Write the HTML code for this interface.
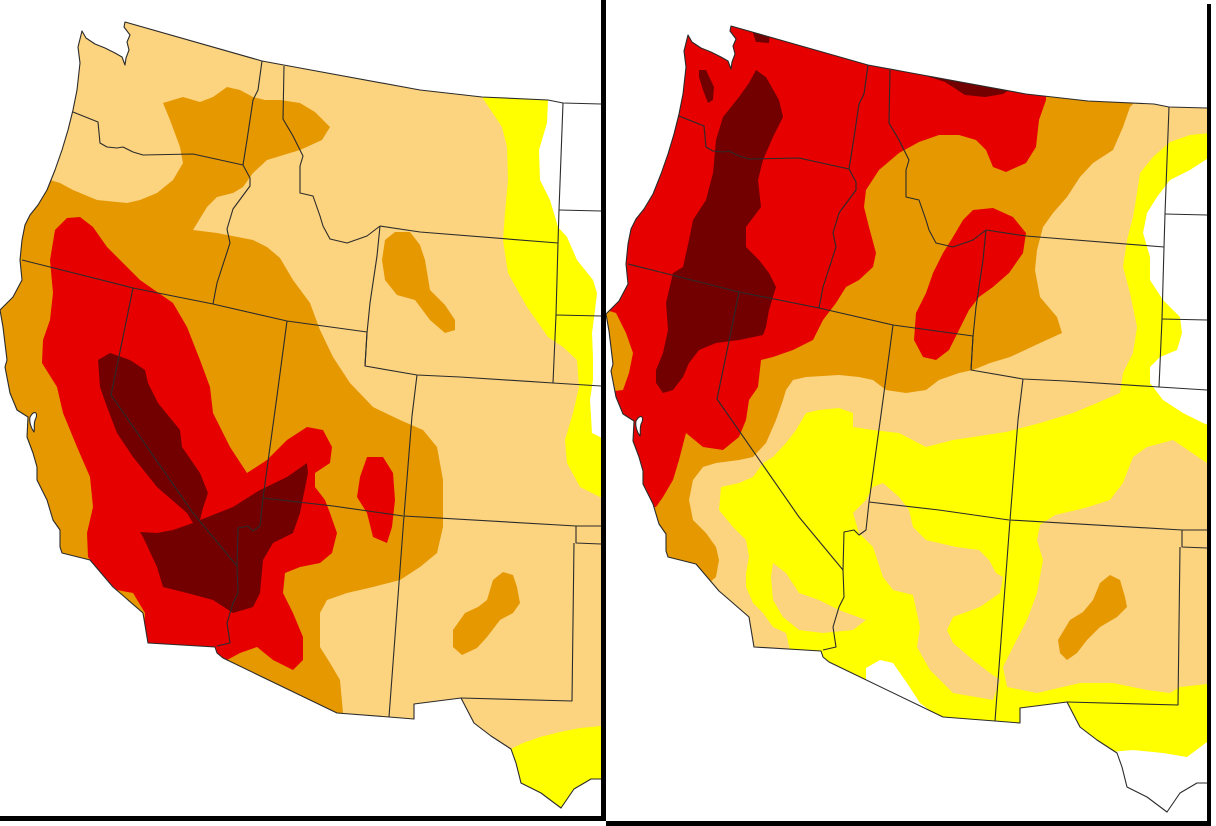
<!DOCTYPE html>
<html><head><meta charset="utf-8"><style>html,body{margin:0;padding:0;background:#fff;width:1216px;height:826px;overflow:hidden}svg{display:block}</style></head>
<body>
<svg width="1216" height="826" viewBox="0 0 1216 826" xmlns="http://www.w3.org/2000/svg" overflow="hidden">
<defs>
<clipPath id="cL"><path d="M125,22 L262,61 L300,68 L420,90 L482,97 L548,100 L563,103 L601,104 L601,779 L591,779 L574,789 L561,808 L541,793 L521,783 L516,763 L511,749 L491,736 L474,723 L461,698 L414,704 L414,719 L389,717 L337,713 L223,658 L217,653 L215,647 L148,643 L143,613 L120,593 L113,587 L90,560 L62,553 L60,547 L60,530 L53,520 L47,500 L37,480 L37,467 L33,453 L27,437 L28,417 L17,410 L10,393 L5,367 L7,360 L3,327 L0,310 L13,297 L22,280 L20,260 L22,240 L25,225 L30,215 L38,205 L47,190 L55,170 L62,150 L68,130 L73,110 L77,90 L80,63 L78,47 L82,31 L86,38 L95,44 L105,48 L115,53 L122,57 L125,65 L126,58 L129,50 L127,42 L130,35 L124,27 Z"/></clipPath>
<clipPath id="cR"><path transform="translate(606,4)" d="M125,22 L262,61 L300,68 L420,90 L482,97 L548,100 L563,103 L610,104 L610,779 L591,779 L574,789 L561,808 L541,793 L521,783 L516,763 L511,749 L491,736 L474,723 L461,698 L414,704 L414,719 L389,717 L337,713 L223,658 L217,653 L215,647 L148,643 L143,613 L120,593 L113,587 L90,560 L62,553 L60,547 L60,530 L53,520 L47,500 L37,480 L37,467 L33,453 L27,437 L28,417 L17,410 L10,393 L5,367 L7,360 L3,327 L0,310 L13,297 L22,280 L20,260 L22,240 L25,225 L30,215 L38,205 L47,190 L55,170 L62,150 L68,130 L73,110 L77,90 L80,63 L78,47 L82,31 L86,38 L95,44 L105,48 L115,53 L122,57 L125,65 L126,58 L129,50 L127,42 L130,35 L124,27 Z"/></clipPath>
<g id="lines" fill="none" stroke="#2b2b2b" stroke-width="1.1" stroke-linejoin="round">
<polyline points="601,104 563,103 548,100 482,97 420,90 300,68 262,61 125,22 124,27 130,35 127,42 129,50 126,58 125,65 122,57 115,53 105,48 95,44 86,38 82,31 78,47 80,63 77,90 73,110 68,130 62,150 55,170 47,190 38,205 30,215 25,225 22,240 20,260 22,280 13,297 0,310"/>
<polyline points="0,310 3,327 7,360 5,367 10,393 17,410 28,417 27,437 33,453 37,467 37,480 47,500 53,520 60,530 60,547 62,553 90,560 113,587 120,593 143,613 148,643 215,647 217,653 223,658 337,713 389,717 414,719 414,704 461,698 474,723 491,736 511,749 516,763 521,783 541,793 561,808 574,789 591,779 601,779"/>
<polyline points="73,112 98,122 100,143 107,147 117,148 123,147 133,152 143,155 193,154 243,165"/>
<polyline points="262,61 258,90 253,100 247,140 243,165"/>
<polyline points="284,66 283,119 293,136 303,156 300,166 300,193 313,196 320,216 323,226 330,239 347,243 367,236 380,226"/>
<polyline points="380,226 377,256 370,303 367,333 365,366"/>
<polyline points="380,226 420,232 558,243"/>
<polyline points="563,103 559,210 558,243 556,315 553,383"/>
<polyline points="559,210 601,211"/>
<polyline points="556,315 601,316"/>
<polyline points="22,260 50,267 133,288 213,304 287,321 367,332"/>
<polyline points="243,165 250,178 250,186 233,209 227,229 230,243 217,283 213,304"/>
<polyline points="133,288 123,337 111,395 193,513 237,566 238,593 233,603 227,623 230,643 217,646"/>
<polyline points="287,321 277,396 263,498 260,526 253,531 248,526 238,528 237,566"/>
<polyline points="263,498 333,506 403,516"/>
<polyline points="417,375 412,416 404,516 389,717"/>
<polyline points="367,332 365,366 417,375 460,377 553,383 601,386"/>
<polyline points="404,516 576,526 601,526"/>
<polyline points="576,526 576,543 601,544"/>
<polyline points="574,543 572,701 461,698"/>
<path d="M30,417 C34,410 38,412 36,418 C33,423 35,428 34,432 C31,428 29,422 30,417 Z" fill="#fff"/>
</g>
</defs>

<!-- LEFT PANEL -->
<g clip-path="url(#cL)">
<rect x="0" y="0" width="606" height="826" fill="#FCD37F"/>
<path fill="#FFFF00" d="M482,97 L502,127 L507,147 L508,180 L505,213 L503,240 L508,273 L527,307 L548,337 L563,347 L577,360 L579,387 L573,413 L565,440 L567,463 L580,487 L600,497 L606,497 L606,90 L482,90 Z"/>
<path fill="#FFFFFF" d="M548,100 L547,123 L539,150 L540,180 L550,200 L558,227 L567,237 L577,260 L593,280 L597,293 L595,310 L592,333 L593,357 L593,380 L590,400 L592,433 L602,438 L606,438 L606,90 L548,90 Z"/>
<path fill="#FFFF00" d="M505,752 L523,743 L540,737 L560,732 L580,728 L601,726 L606,726 L606,820 L500,820 Z"/>
<path fill="#E69800" d="M50,180 L60,183 L73,190 L97,200 L127,203 L140,200 L157,193 L173,180 L183,163 L180,147 L170,120 L163,103 L183,97 L200,102 L213,97 L227,87 L240,90 L253,97 L265,100 L280,100 L300,103 L315,112 L330,127 L322,140 L300,150 L267,160 L253,173 L243,187 L233,193 L217,197 L207,207 L193,230 L217,233 L253,240 L267,247 L280,258 L293,280 L310,303 L320,330 L333,357 L350,383 L373,407 L400,420 L423,430 L437,447 L443,480 L443,527 L437,553 L420,567 L400,580 L373,587 L347,593 L327,600 L320,613 L320,647 L330,663 L340,680 L343,713 L343,740 L0,740 L0,180 Z"/>
<path fill="#E69800" d="M395,232 L410,232 L420,245 L425,260 L430,290 L445,305 L455,320 L455,330 L445,333 L430,320 L415,300 L397,295 L385,280 L382,260 L385,240 Z"/>
<path fill="#E69800" d="M503,572 L513,575 L517,587 L520,603 L513,613 L500,620 L487,637 L477,648 L462,655 L453,647 L453,630 L465,613 L478,607 L487,600 L493,580 Z"/>
<path fill="#E60000" d="M55,230 L67,218 L80,217 L93,227 L107,247 L127,267 L140,280 L150,287 L173,303 L187,327 L200,360 L210,387 L213,413 L230,447 L247,473 L267,460 L287,440 L307,427 L323,430 L332,447 L330,463 L315,473 L315,487 L325,500 L330,513 L337,533 L332,553 L320,563 L300,567 L285,573 L283,593 L293,613 L303,637 L303,660 L293,670 L273,660 L257,647 L240,653 L227,660 L220,700 L140,700 L145,613 L133,593 L117,590 L103,577 L88,557 L87,533 L93,507 L90,477 L77,447 L63,413 L57,387 L42,363 L43,340 L50,320 L53,293 L50,260 Z"/>
<path fill="#E60000" d="M367,457 L383,457 L393,473 L395,500 L392,527 L387,543 L373,537 L367,513 L357,497 L360,477 Z"/>
<path fill="#730000" d="M98,360 L110,353 L130,360 L145,370 L148,383 L158,403 L180,430 L182,447 L200,473 L208,493 L203,508 L200,520 L233,507 L260,490 L287,477 L307,463 L308,473 L300,513 L293,533 L273,543 L263,560 L260,593 L253,607 L233,613 L213,600 L187,593 L163,587 L157,567 L143,537 L140,532 L157,533 L173,530 L193,523 L187,513 L157,487 L133,457 L117,433 L107,407 L100,387 Z"/>
</g>
<use href="#lines"/>

<!-- RIGHT PANEL -->
<g clip-path="url(#cR)">
<rect x="606" y="0" width="610" height="826" fill="#FCD37F"/>
<path fill="#FFFF00" d="M721,487 L739,483 L753,477 L763,463 L773,457 L786,443 L796,430 L806,413 L819,410 L839,408 L853,413 L853,427 L873,430 L899,433 L926,447 L953,440 L973,437 L1006,432 L1040,423 L1073,413 L1097,403 L1120,393 L1123,373 L1133,353 L1137,327 L1130,293 L1123,267 L1127,240 L1133,217 L1137,193 L1140,173 L1153,157 L1170,142 L1190,135 L1210,133 L1216,133 L1216,826 L790,826 L790,650 L786,633 L773,627 L763,613 L753,603 L746,587 L746,573 L749,557 L746,540 L733,527 L719,510 Z"/>
<path fill="#FFFFFF" d="M1210,157 L1190,170 L1170,180 L1157,197 L1147,213 L1143,233 L1150,257 L1150,280 L1163,300 L1180,317 L1182,333 L1177,350 L1160,357 L1150,367 L1150,383 L1163,400 L1183,413 L1203,423 L1216,428 L1216,157 Z"/>
<path fill="#FCD37F" d="M773,563 L786,573 L799,593 L819,600 L839,610 L866,620 L853,630 L823,633 L799,630 L783,617 L773,600 L771,577 Z"/>
<path fill="#FCD37F" d="M853,513 L859,507 L866,500 L873,487 L883,483 L899,497 L909,510 L913,527 L926,540 L956,547 L979,550 L989,560 L996,573 L1003,577 L1000,593 L980,607 L953,617 L947,630 L953,643 L973,660 L990,673 L1000,680 L993,700 L953,693 L930,670 L917,647 L920,627 L913,595 L893,590 L883,577 L873,547 L859,533 Z"/>
<path fill="#FCD37F" d="M1216,463 L1207,463 L1173,440 L1147,447 L1133,457 L1123,483 L1110,500 L1085,508 L1055,515 L1040,525 L1037,540 L1043,560 L1037,593 L1027,620 L1013,647 L1003,667 L1007,687 L1037,693 L1080,683 L1113,683 L1147,690 L1170,693 L1180,687 L1216,683 Z"/>
<path fill="#FFFFFF" d="M866,668 L880,660 L893,663 L907,683 L920,703 L945,722 L866,722 Z"/>
<path fill="#FFFFFF" d="M1110,752 L1133,750 L1163,753 L1187,757 L1207,742 L1216,740 L1216,826 L1100,826 Z"/>
<path fill="#E69800" d="M1040,60 L1140,60 L1133,104 L1130,107 L1123,127 L1113,150 L1093,163 L1080,177 L1067,197 L1053,213 L1043,227 L1037,250 L1035,270 L1040,297 L1057,317 L1062,333 L1040,343 L1010,357 L990,363 L973,370 L959,373 L939,380 L926,390 L906,393 L886,390 L873,380 L859,377 L839,375 L806,377 L793,380 L786,390 L783,400 L776,420 L766,443 L753,457 L739,460 L716,463 L703,467 L693,480 L689,500 L693,520 L706,533 L716,547 L719,560 L716,577 L709,583 L700,600 L606,600 L606,60 Z"/>
<path fill="#E69800" d="M1110,575 L1120,580 L1125,597 L1127,607 L1117,617 L1100,627 L1087,640 L1077,653 L1067,660 L1060,653 L1058,640 L1070,620 L1083,612 L1093,600 L1100,583 Z"/>
<path fill="#E60000" d="M606,0 L1046,0 L1046,100 L1039,120 L1036,147 L1026,163 L1006,172 L993,167 L986,150 L976,140 L959,135 L939,135 L919,142 L899,153 L879,170 L866,190 L864,207 L869,227 L876,253 L873,267 L859,280 L846,287 L836,303 L823,320 L813,340 L793,350 L773,357 L761,360 L758,387 L749,400 L746,420 L739,437 L723,450 L703,447 L686,433 L679,460 L673,480 L663,497 L656,507 L606,507 L606,392 L623,390 L629,373 L633,353 L626,333 L616,313 L606,310 Z"/>
<path fill="#E60000" d="M973,210 L993,208 L1013,217 L1026,233 L1023,253 L1009,273 L993,287 L979,297 L969,310 L959,330 L949,350 L936,360 L923,357 L914,340 L916,313 L926,293 L933,273 L943,253 L953,237 L963,220 Z"/>
<path fill="#730000" d="M756,70 L766,77 L779,100 L783,117 L773,137 L763,160 L758,180 L761,207 L746,227 L746,247 L759,260 L769,273 L776,287 L769,310 L766,327 L763,335 L739,340 L716,343 L699,350 L689,363 L683,377 L673,390 L663,393 L656,383 L656,370 L663,353 L668,330 L666,303 L673,273 L683,267 L689,240 L693,220 L706,200 L713,173 L716,140 L723,117 L739,97 L749,83 Z"/>
<path fill="#730000" d="M699,70 L706,70 L714,87 L713,100 L708,103 L703,90 L699,77 Z"/>
<path fill="#730000" d="M915,60 L920,74 L945,82 L965,95 L985,97 L1003,94 L1012,88 L1012,60 Z"/>
<path fill="#730000" d="M752,30 L770,30 L769,43 L756,42 Z"/>
</g>
<use href="#lines" transform="translate(606,4)"/>

<!-- FRAME BARS -->
<rect x="601" y="0" width="5" height="821" fill="#000"/>
<rect x="0" y="816" width="606" height="5" fill="#000"/>
<rect x="606" y="821" width="605" height="5" fill="#000"/>
<rect x="1207" y="4" width="4" height="822" fill="#000"/>
<rect x="1211" y="0" width="5" height="826" fill="#fff"/>
</svg>
</body></html>
